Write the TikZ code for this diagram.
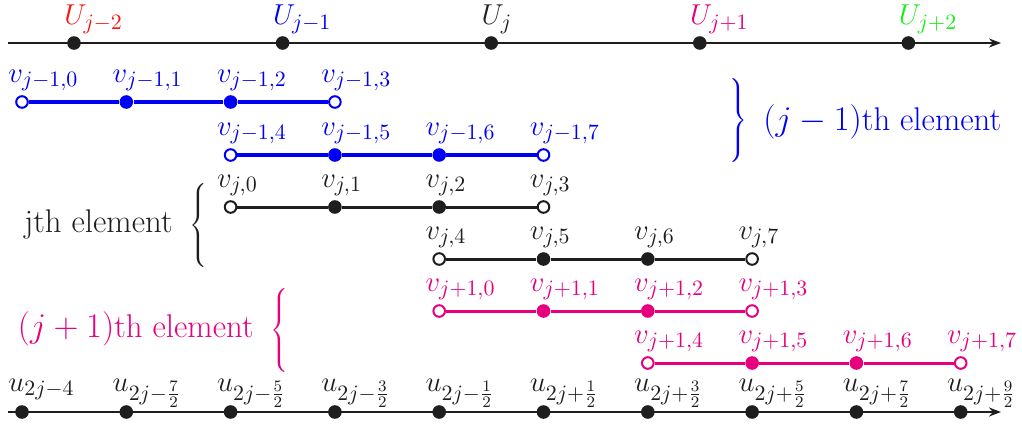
\documentclass[tikz,border=0pt]{standalone}
\usetikzlibrary{arrows.meta}
\definecolor{mag}{RGB}{230,0,126}
\definecolor{grn}{RGB}{20,240,20}
\definecolor{blu}{RGB}{0,0,245}
\definecolor{rd}{RGB}{250,20,20}
\definecolor{ink}{RGB}{30,30,30}
\tikzset{
  fdot/.style={circle, fill, inner sep=0pt, minimum size=6.8pt},
  odot/.style={circle, draw, fill=white, inner sep=0pt, minimum size=5.8pt, line width=1pt},
  vlbl/.style={anchor=base west, inner sep=0pt, font=\fontsize{15.5}{18}\selectfont},
  ulbl/.style={anchor=base west, inner sep=0pt, font=\fontsize{15.5}{18}\selectfont},
  Ulbl/.style={anchor=base west, inner sep=0pt, font=\fontsize{15}{17}\selectfont},
  txt/.style={inner sep=0pt, font=\fontsize{16.4}{19}\selectfont},
  brc/.style={inner sep=0pt, font=\fontsize{16}{19}\selectfont},
  axis/.style={line width=1.3pt, ink, -{Stealth[length=6pt,width=4.5pt]}},
  seg/.style={line width=1.5pt},
}
\begin{document}
\begin{tikzpicture}[x=0.5pt,y=-0.5pt]
\useasboundingbox (0,0) rectangle (1022,428);
% top axis
\coordinate (tL) at (8,43);
\coordinate (tR) at (1001,43);
\draw[axis] (tL) -- (tR);
\foreach \m/\c/\t in {0/rd/{j-2},1/blu/{j-1},2/ink/{j},3/mag/{j+1},4/grn/{j+2}}{
  \node[fdot, ink] (T\m) at ({74+208.6*\m},43) {};
  \node[Ulbl, text=\c] (TL\m) at ({74+208.6*\m-10},25) {$U_{\t}$};
}
% bottom axis
\coordinate (bL) at (8,412);
\coordinate (bR) at (1001,412);
\draw[axis] (bL) -- (bR);
\foreach \k/\t in {0/{2j-4},1/{2j-\frac72},2/{2j-\frac52},3/{2j-\frac32},4/{2j-\frac12},5/{2j+\frac12},6/{2j+\frac32},7/{2j+\frac52},8/{2j+\frac72},9/{2j+\frac92}}{
  \node[fdot, ink] (B\k) at ({22+104.3*\k},412) {};
  \node[ulbl, text=ink] (BL\k) at ({22+104.3*\k-14},391) {$u_{\t}$};
}
% element rows
\foreach \r/\c/\y/\s/\e/\o/\w in {A/blu/102/0/{j-1}/0/2, B/blu/155/2/{j-1}/4/2, C/ink/207/2/{j}/0/1.5, D/ink/259/4/{j}/4/1.5, E/mag/311/4/{j+1}/0/1.5, F/mag/363/6/{j+1}/4/1.5}{
  \begin{scope}[\c]
  \node[odot] (\r0) at ({22+104.3*\s},\y) {};
  \node[fdot] (\r1) at ({22+104.3*(\s+1)},\y) {};
  \node[fdot] (\r2) at ({22+104.3*(\s+2)},\y) {};
  \node[odot] (\r3) at ({22+104.3*(\s+3)},\y) {};
  \draw[seg, line width=\w pt] (\r0) -- (\r1) -- (\r2) -- (\r3);
  \foreach \i in {0,1,2,3}{
    \pgfmathtruncatemacro{\idx}{\o+\i}
    \node[vlbl] (\r L\i) at ({22+104.3*(\s+\i)-14},{\y-20}) {$v_{\e,\idx}$};
  }
  \end{scope}
}
% braces and texts
\node[brc, text=blu] (braceA) at (737,120) {$\left.\vrule height 16pt depth 16pt width 0pt\right\}$};
\node[txt, text=blu, anchor=base west] (textA) at (763,130) {$(j-1)$th element};
\node[brc, text=ink] (braceC) at (200,225) {$\left\{\vrule height 16pt depth 16pt width 0pt\right.$};
\node[txt, text=ink, anchor=base east] (textC) at (173,232) {jth element};
\node[brc, text=mag] (braceE) at (281,330) {$\left\{\vrule height 16pt depth 16pt width 0pt\right.$};
\node[txt, text=mag, anchor=base east] (textE) at (254,337) {$(j+1)$th element};
\end{tikzpicture}
\end{document}
